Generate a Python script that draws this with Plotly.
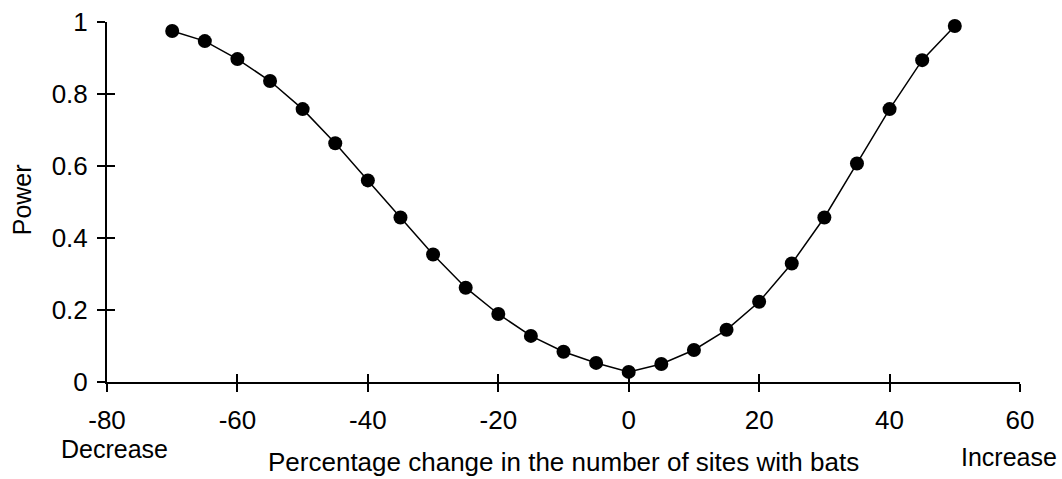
import plotly.graph_objects as go

# Percentage change in the number of sites with bats vs. statistical power
pct_change = [-70, -65, -60, -55, -50, -45, -40, -35, -30, -25, -20, -15, -10,
              -5, 0, 5, 10, 15, 20, 25, 30, 35, 40, 45, 50]
power = [0.975, 0.947, 0.897, 0.836, 0.758, 0.663, 0.560, 0.457, 0.354, 0.262,
         0.189, 0.128, 0.084, 0.053, 0.028, 0.050, 0.089, 0.145, 0.223, 0.329,
         0.457, 0.607, 0.758, 0.894, 0.989]

x_ticks = [-80, -60, -40, -20, 0, 20, 40, 60]
y_ticks = [0, 0.2, 0.4, 0.6, 0.8, 1]
y_tick_text = ["0", "0.2", "0.4", "0.6", "0.8", "1"]

FONT = "Liberation Sans, Arial, sans-serif"
TICK_FS = 26
TEXT_FS = 25

fig = go.Figure()
fig.add_trace(go.Scatter(
    x=pct_change, y=power, mode="lines+markers",
    line=dict(color="black", width=1.5),
    marker=dict(color="black", size=14),
    cliponaxis=False, showlegend=False, hoverinfo="x+y",
))
# empty trace so the overlay axes (inner half of the cross ticks) render
fig.add_trace(go.Scatter(x=[None], y=[None], xaxis="x2", yaxis="y2",
                         showlegend=False, hoverinfo="skip"))

common_x = dict(range=[-80, 60], tickvals=x_ticks, zeroline=False,
                showgrid=False, ticklen=8, tickwidth=1.5, tickcolor="black",
                automargin=False)
common_y = dict(range=[0, 1], tickvals=y_ticks, zeroline=False,
                showgrid=False, ticklen=8, tickwidth=1.5, tickcolor="black",
                automargin=False)

fig.update_layout(
    width=1062, height=479,
    margin=dict(l=107, r=42, t=22, b=97, autoexpand=False),
    paper_bgcolor="white", plot_bgcolor="white",
    font=dict(family=FONT, size=TEXT_FS, color="black"),
    xaxis=dict(**common_x, ticks="outside", showline=True, linecolor="black",
               linewidth=2, ticktext=[str(v) for v in x_ticks],
               ticklabelstandoff=6, tickfont=dict(size=TICK_FS)),
    yaxis=dict(**common_y, ticks="outside", showline=True, linecolor="black",
               linewidth=2, ticktext=y_tick_text, ticklabelstandoff=4,
               tickfont=dict(size=TICK_FS)),
    xaxis2=dict(**common_x, ticks="inside", overlaying="x", showticklabels=False,
                showline=False),
    yaxis2=dict(**common_y, ticks="inside", overlaying="y", showticklabels=False,
                showline=False, anchor="x2"),
    annotations=[
        dict(text="Percentage change in the number of sites with bats",
             xref="paper", yref="paper", x=0.5, y=-0.2655,
             xanchor="center", yanchor="bottom", showarrow=False,
             borderpad=0, font=dict(size=TICK_FS)),
        dict(text="Decrease", xref="x", yref="paper", x=-78.8, y=-0.1455,
             xanchor="center", yanchor="top", showarrow=False,
             borderpad=0, font=dict(size=TEXT_FS)),
        dict(text="Increase", xref="x", yref="paper", x=58.3, y=-0.209,
             xanchor="center", yanchor="middle", showarrow=False,
             font=dict(size=TEXT_FS)),
        dict(text="Power", xref="paper", yref="paper", x=-0.093, y=0.505,
             xanchor="center", yanchor="middle", textangle=-90,
             showarrow=False, font=dict(size=TEXT_FS)),
    ],
)

fig.write_html("out.html")
